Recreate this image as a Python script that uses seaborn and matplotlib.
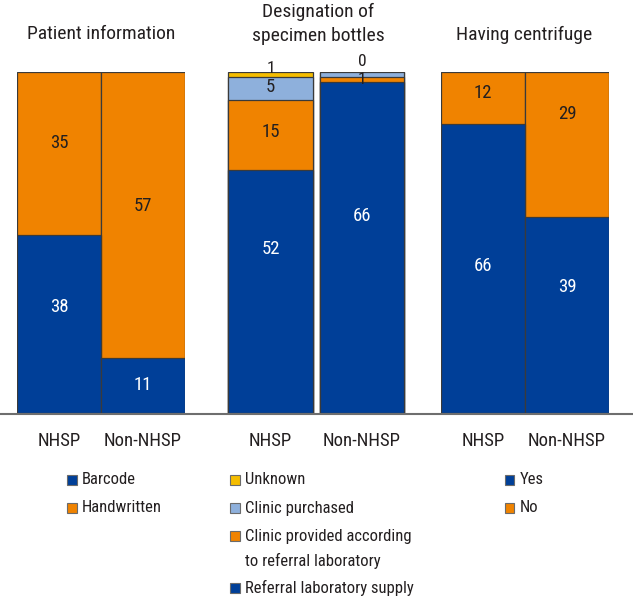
import matplotlib
matplotlib.use("Agg")
import matplotlib.pyplot as plt
import seaborn as sns
import numpy as np
from matplotlib.patches import Rectangle
from matplotlib.lines import Line2D

# ---------------- data ----------------
groups = ["NHSP", "Non-NHSP"]

title_patient = "Patient information"
title_bottles = "Designation of\nspecimen bottles"
title_centrifuge = "Having centrifuge"

# categories listed bottom -> top of the stack
patient_cats = ["Barcode", "Handwritten"]
patient_nhsp = [38, 35]
patient_non = [11, 57]

bottle_cats = ["Referral laboratory supply",
               "Clinic provided according\nto referral laboratory",
               "Clinic purchased", "Unknown"]
bottle_nhsp = [52, 15, 5, 1]
bottle_non = [66, 1, 1, 0]

centrifuge_cats = ["Yes", "No"]
centrifuge_nhsp = [66, 12]
centrifuge_non = [39, 29]

# ---------------- style ----------------
BLUE = "#003f98"
ORANGE = "#f08300"
LIGHT = "#8eb0dc"
YELLOW = "#f5bd00"
DARK = "#231f20"
EDGE = "#3a3a3a"

sns.set_theme(style="white")
plt.rcParams['font.family'] = ['Roboto Condensed', 'Archivo Narrow', 'Liberation Sans', 'DejaVu Sans']

W, H = 633, 600
fig = plt.figure(figsize=(W / 100, H / 100), dpi=100)

bottom_px, top_px = 413, 72
panels = [
    dict(title=title_patient, cats=patient_cats, vals=[patient_nhsp, patient_non],
         colors=[BLUE, ORANGE], left=17, right=185, width=1.0,
         title_x=101, title_y=34,
         # label vertical shift in px (per group, per segment), hidden labels
         dy=[[-17, -11], [0, -9]], show=[[1, 1], [1, 1]],
         leg_x=67, rows=[480, 508]),
    dict(title=title_bottles, cats=bottle_cats, vals=[bottle_nhsp, bottle_non],
         colors=[BLUE, ORANGE, LIGHT, YELLOW], left=225.1, right=407.6, width=0.926,
         title_x=318, title_y=24,
         dy=[[-43, -3, -1, -6], [-32, 0, 0, -10]], show=[[1, 1, 1, 1], [1, 1, 0, 1]],
         leg_x=230, rows=[588, 536, 508, 480]),
    dict(title=title_centrifuge, cats=centrifuge_cats, vals=[centrifuge_nhsp, centrifuge_non],
         colors=[BLUE, ORANGE], left=441, right=609, width=1.0,
         title_x=524.5, title_y=35,
         dy=[[-3, -5], [-28, -31]], show=[[1, 1], [1, 1]],
         leg_x=505, rows=[480, 508]),
]

for p in panels:
    ax = fig.add_axes([p["left"] / W, 1 - bottom_px / H,
                       (p["right"] - p["left"]) / W, (bottom_px - top_px) / H])
    ax.set_facecolor("none")
    vals = np.array(p["vals"], dtype=float)          # groups x segments
    pct = vals / vals.sum(axis=1, keepdims=True) * 100
    cum = np.cumsum(pct, axis=1)
    nseg = vals.shape[1]
    for k in range(nseg - 1, -1, -1):
        sns.barplot(x=groups, y=list(cum[:, k]), order=groups, color=p["colors"][k],
                    saturation=1, width=p["width"], edgecolor=EDGE, linewidth=0.9,
                    errorbar=None, ax=ax)
    # value labels
    for g in range(len(groups)):
        for k in range(nseg):
            if not p["show"][g][k]:
                continue
            center = cum[g, k] - pct[g, k] / 2
            col = "white" if p["colors"][k] == BLUE else DARK
            fs = 13.5 if pct[g, k] > 3 else 12.5
            ax.annotate(f"{int(vals[g, k])}", xy=(g, center),
                        xytext=(0, -p["dy"][g][k] * 0.72), textcoords="offset points",
                        ha="center", va="center", fontsize=fs, color=col)
    ax.set_xlim(-0.5, 1.5)
    ax.set_ylim(0, 100)
    ax.set_yticks([])
    ax.set_xlabel("")
    ax.set_ylabel("")
    for s in ax.spines.values():
        s.set_visible(False)
    ax.tick_params(axis="x", length=0, pad=14, labelsize=13.5, colors=DARK)

    # title
    fig.text(p["title_x"] / W, 1 - p["title_y"] / H, p["title"], ha="center", va="center",
             fontsize=14, color=DARK, linespacing=1.4)

    # legend (top of stack first)
    for k, cat in enumerate(p["cats"]):
        ry = p["rows"][k]
        sq = 9.5
        fig.add_artist(Rectangle(((p["leg_x"]) / W, 1 - (ry + sq / 2) / H), sq / W, sq / H,
                                 transform=fig.transFigure, facecolor=p["colors"][k],
                                 edgecolor="#6b6b6b", linewidth=0.8))
        for j, line in enumerate(cat.split("\n")):
            fig.text((p["leg_x"] + 15) / W, 1 - (ry + j * 25) / H, line, ha="left",
                     va="center", fontsize=12, color=DARK)

# baseline across the whole figure
fig.add_artist(Line2D([0, 1], [1 - 413.5 / H, 1 - 413.5 / H], transform=fig.transFigure,
                      color="#6e6e6e", linewidth=1.5, zorder=10))

fig.savefig("out.png", dpi=100)
